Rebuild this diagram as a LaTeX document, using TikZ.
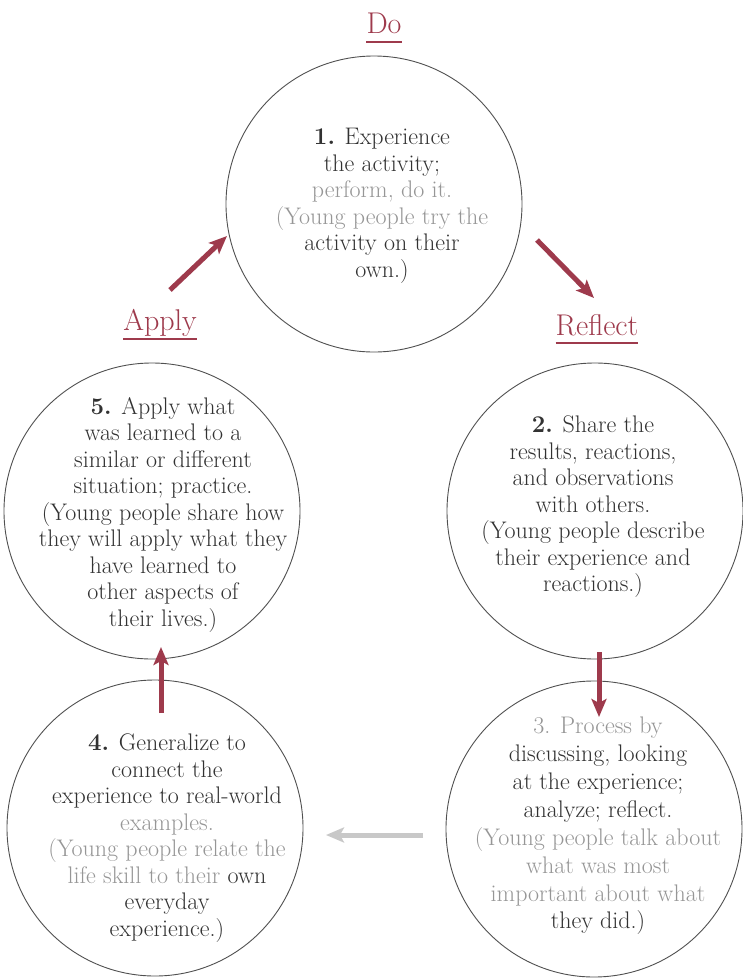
\documentclass[tikz,border=0pt]{standalone}
\usepackage{fontspec}
\usetikzlibrary{arrows.meta}
\definecolor{redc}{RGB}{158,58,76}
\definecolor{textdark}{RGB}{50,50,50}
\definecolor{textlight}{RGB}{150,150,150}
\definecolor{linegray}{RGB}{80,80,80}
\definecolor{greyarrow}{RGB}{200,200,200}
\newcommand{\greytxt}[1]{{\color{textlight}#1}}
\tikzset{
  circ/.style={circle, draw=linegray, line width=0.9pt, minimum size=296pt, inner sep=0pt},
  txt/.style={align=center, font=\fontsize{24}{26.5}\selectfont, text=textdark, inner sep=0pt},
  head/.style={font=\fontsize{30}{32}\selectfont, text=redc, inner sep=0pt},
  uline/.style={draw=redc, line width=2pt},
  redarrow/.style={-{Stealth[length=18pt,width=15pt,inset=4pt]}, line width=5pt, draw=redc},
  greyarr/.style={-{Stealth[length=18pt,width=15pt,inset=4pt]}, line width=5pt, draw=greyarrow},
}
\begin{document}
\begin{tikzpicture}[x=1pt,y=-1pt]
\useasboundingbox[fill=white] (0,0) rectangle (743,978);
% circles
\node[circ] (c1) at (374,204) {};
\node[circ] (c2) at (595,511) {};
\node[circ] (c3) at (594,829) {};
\node[circ] (c4) at (155,828) {};
\node[circ] (c5) at (152,511) {};
% headings
\node[head, anchor=base] (hdo) at (384,33) {Do};
\draw[uline] ([yshift=-9pt]hdo.base west) -- ([yshift=-9pt]hdo.base east);
\node[head, anchor=base] (happly) at (160,330) {Apply};
\draw[uline] ([yshift=-9pt]happly.base west) -- ([yshift=-9pt]happly.base east);
\node[head, anchor=base] (hreflect) at (597,335) {Reflect};
\draw[uline] ([yshift=-8pt]hreflect.base west) -- ([yshift=-8pt]hreflect.base east);
% texts
\node[txt] (t1) at (382,206) {\textbf{1.} Experience\\ the activity;\\ \greytxt{perform, do it.}\\ \greytxt{(Young people try the}\\ activity on their\\ own.)};
\node[txt] (t2) at (593,507) {\textbf{2.} Share the\\ results, reactions,\\ and observations\\ with others.\\ (Young people describe\\ their experience and\\ reactions.)};
\node[txt, font=\fontsize{24}{27.9}\selectfont] (t3) at (598,826) {\greytxt{3. Process by}\\ discussing, looking\\ at the experience;\\ analyze; reflect.\\ \greytxt{(Young people talk about}\\ \greytxt{what was most}\\ \greytxt{important about what}\\ they did.)};
\node[txt] (t4) at (167,838) {\textbf{4.} Generalize to\\ connect the\\ experience to real-world\\ \greytxt{examples.}\\ \greytxt{(Young people relate the}\\ \greytxt{life skill to their} own\\ everyday\\ experience.)};
\node[txt] (t5) at (163,515) {\textbf{5.} Apply what\\ was learned to a\\ similar or different\\ situation; practice.\\ (Young people share how\\ they will apply what they\\ have learned to\\ other aspects of\\ their lives.)};
% arrows
\coordinate (a1s) at (170,290); \coordinate (a1e) at (227,236);
\coordinate (a2s) at (537,240); \coordinate (a2e) at (594,298);
\coordinate (a3s) at (599,652); \coordinate (a3e) at (599,717);
\coordinate (a4s) at (161,713); \coordinate (a4e) at (161,647);
\coordinate (a5s) at (423,835); \coordinate (a5e) at (326,835);
\draw[redarrow] (a1s) -- (a1e);
\draw[redarrow] (a2s) -- (a2e);
\draw[redarrow] (a3s) -- (a3e);
\draw[redarrow] (a4s) -- (a4e);
\draw[greyarr] (a5s) -- (a5e);
\end{tikzpicture}
\end{document}
